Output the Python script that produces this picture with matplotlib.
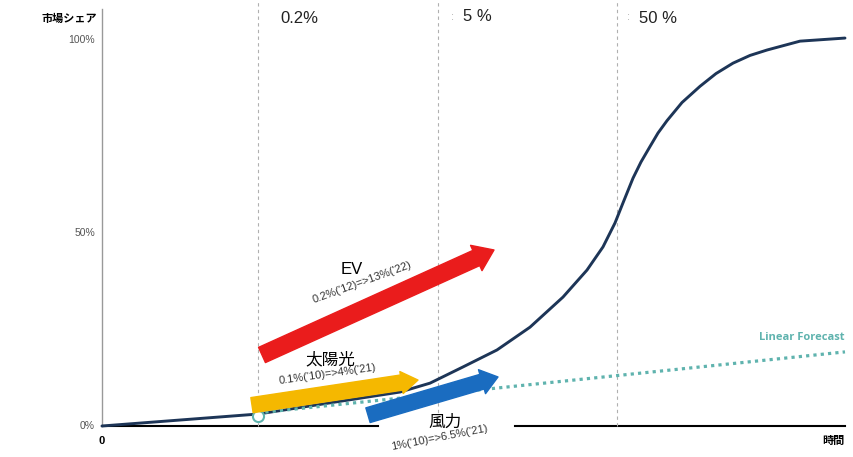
import matplotlib
matplotlib.use("Agg")
import matplotlib.pyplot as plt

plt.rcParams['font.family'] = ['Liberation Sans', 'Noto Sans CJK JP']

# S-curve of market share (time in arbitrary units, share in %)
curve_t = [0, 78, 156, 228, 298, 328, 361, 395, 428, 461, 485, 501, 513, 521,
           531, 539, 548, 556, 565, 580, 598, 614, 631, 648, 665, 698, 743]
curve_share = [0, 1.55, 3.1, 6.0, 8.8, 11.1, 15.3, 19.7, 25.6, 33.4, 40.4, 46.4, 52.6, 57.8,
               64.2, 68.4, 72.4, 75.9, 79.1, 83.8, 88.0, 91.3, 94.0, 96.0, 97.4, 99.7, 100.5]

# linear forecast
forecast_t = [156, 743]
forecast_share = [3.4, 19.2]

# phase markers
phase_t = [156, 336, 515]
phase_labels = ['0.2%', '5 %', '50 %']

yticks = [0, 50, 100]
ytick_labels = ['0%', '50%', '100%']

# arrows: (name, detail, tail, head, colour)
arrows = [
    ('EV', "0.2%('12)=>13%('22)", (160, 18.4), (392, 45.6), '#ea1c1c'),
    ('太陽光', "0.1%('10)=>4%('21)", (150, 5.4), (316, 11.9), '#f5b800'),
    ('風力', "1%('10)=>6.5%('21)", (266, 2.8), (396, 12.7), '#1a6cc0'),
]

fig = plt.figure(figsize=(8.54, 4.57), dpi=100)
ax = fig.add_axes([0, 0, 1, 1])
ax.set_xlim(-102, 752)
ax.set_ylim(-8.03, 110.36)
ax.axis('off')

# axes lines
ax.plot([0, 0], [0, 108], color='#999999', lw=1)
ax.plot([0, 276], [0, 0], color='black', lw=1.5)
ax.plot([413, 743], [0, 0], color='black', lw=1.5)

for t, lab in zip(phase_t, phase_labels):
    ax.plot([t, t], [0, 110], color='#b0b0b0', lw=0.8, ls=(0, (3, 3)))
ax.text(phase_t[0] + 22, 105.5, phase_labels[0], fontsize=12, color='#222222', va='center')
ax.text(phase_t[1] + 25, 106.2, phase_labels[1], fontsize=12, color='#222222', va='center')
ax.text(phase_t[2] + 22, 105.5, phase_labels[2], fontsize=12, color='#222222', va='center')
ax.text(phase_t[1] + 13, 106.0, ':', fontsize=8, color='#aaaaaa', va='center')
ax.text(phase_t[2] + 10, 106.0, ':', fontsize=8, color='#aaaaaa', va='center')

for y, lab in zip(yticks, ytick_labels):
    ax.text(-7, y, lab, fontsize=7.5, color='#555555', ha='right', va='center')
ax.text(-5, 105.5, '市場シェア', fontsize=8, fontweight='bold', ha='right', va='center')
ax.text(0, -4, '0', fontsize=8, fontweight='bold', ha='center', va='center')
ax.text(743, -4, '時間', fontsize=8, fontweight='bold', ha='right', va='center')

# curve and forecast
ax.plot(curve_t, curve_share, color='#1d3557', lw=2.1, solid_capstyle='round',
        solid_joinstyle='round', zorder=3)
ax.plot(forecast_t, forecast_share, color='#5fb3ae', lw=2.3, ls=(0, (1, 1.3)), zorder=3)
ax.plot([156], [2.6], marker='o', ms=8, mfc='white', mec='#5fb3ae', mew=1.5, zorder=4)
ax.text(743, 23, 'Linear Forecast', fontsize=8, fontweight='bold', color='#5fb3ae',
        family=['Open Sans'], ha='right', va='center')

# arrows
styles = {
    'EV': "simple,head_width=1.0,head_length=0.7,tail_width=0.6",
    '太陽光': "simple,head_width=0.8,head_length=0.6,tail_width=0.55",
    '風力': "simple,head_width=0.9,head_length=0.6,tail_width=0.55",
}
for name, detail, tail, head, col in arrows:
    ax.annotate('', xy=head, xytext=tail,
                arrowprops=dict(arrowstyle=styles[name], color=col, mutation_scale=20,
                                shrinkA=0, shrinkB=0), zorder=5)

ax.text(250, 40.5, 'EV', fontsize=12, ha='center', va='center')
ax.text(260, 37.3, arrows[0][1], fontsize=8, rotation=20, ha='center', va='center', color='#333333')
ax.text(228, 17.2, '太陽光', fontsize=12, ha='center', va='center')
ax.text(226, 13.5, arrows[1][1], fontsize=8, rotation=8, ha='center', va='center', color='#333333')
ax.text(343, 1.0, '風力', fontsize=12, ha='center', va='center')
ax.text(337, -3.0, arrows[2][1], fontsize=8, rotation=11, ha='center', va='center', color='#333333')

fig.savefig('out.png', dpi=100)
